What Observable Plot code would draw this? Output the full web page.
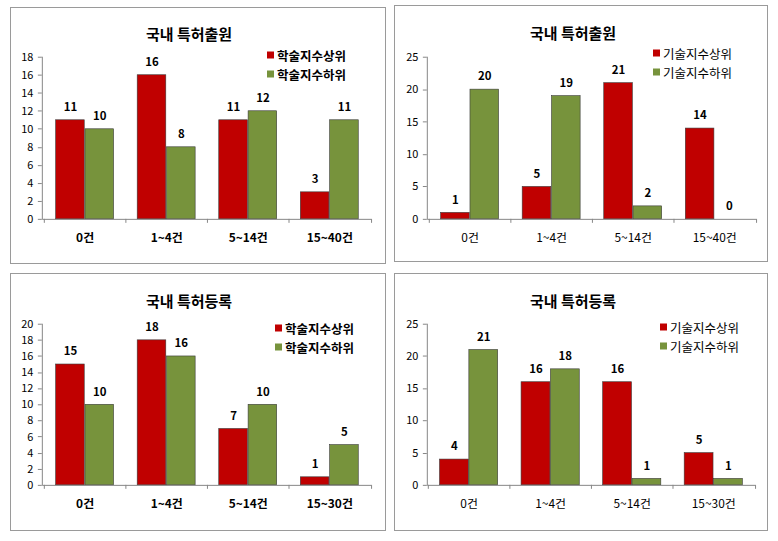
<!DOCTYPE html>
<html><head><meta charset="utf-8">
<script src="https://cdn.jsdelivr.net/npm/d3@7"></script>
<script src="https://cdn.jsdelivr.net/npm/@observablehq/plot@0.6"></script>
<style>
html,body{margin:0;padding:0;background:#fff}
body{width:778px;height:541px;position:relative;overflow:hidden;font-family:"Noto Sans CJK KR","Noto Sans",sans-serif;color:#000}
.box{position:absolute;border:1px solid #9a9a9a;box-sizing:border-box}
.chart{position:absolute}
.title{position:absolute;font-weight:bold;font-size:15px;transform:translate(-50%,-50%);white-space:nowrap}
.leg{position:absolute;font-size:12.5px;white-space:nowrap;transform:translateY(-50%);display:flex;align-items:center}
.sw{display:inline-block;width:7px;height:7px;margin-right:3px}
</style></head>
<body>
<script>
// ---- data ----
const catsA = ["0건", "1~4건", "5~14건", "15~40건"];
const catsB = ["0건", "1~4건", "5~14건", "15~30건"];
const seriesAcad = ["학술지수상위", "학술지수하위"];
const seriesTech = ["기술지수상위", "기술지수하위"];
const titles = ["국내 특허출원", "국내 특허등록"];

const p1High = [11, 16, 11, 3];
const p1Low = [10, 8, 12, 11];
const p2High = [1, 5, 21, 14];
const p2Low = [20, 19, 2, 0];
const p3High = [15, 18, 7, 1];
const p3Low = [10, 16, 10, 5];
const p4High = [4, 16, 16, 5];
const p4Low = [21, 18, 1, 1];

const ticks18 = [0, 2, 4, 6, 8, 10, 12, 14, 16, 18];
const ticks20 = [0, 2, 4, 6, 8, 10, 12, 14, 16, 18, 20];
const ticks25 = [0, 5, 10, 15, 20, 25];

const RED = "#C00000", GREEN = "#77933C";

const panels = [
  {box:[10,7,376,257], m:[50,13,44,32], cats:catsA, series:seriesAcad, hi:p1High, lo:p1Low, ticks:ticks18, title:titles[0], tpos:[189,33], leg:[267,55,74], boldCat:true},
  {box:[394,5,374,257], m:[52,10,42,33], cats:catsA, series:seriesTech, hi:p2High, lo:p2Low, ticks:ticks25, title:titles[0], tpos:[573,32], leg:[653,53,72], boldCat:false},
  {box:[10,273,376,258], m:[51,13,45,32], cats:catsB, series:seriesAcad, hi:p3High, lo:p3Low, ticks:ticks20, title:titles[1], tpos:[189,300], leg:[275,328,347], boldCat:true},
  {box:[394,273,374,258], m:[51,11,45,33], cats:catsB, series:seriesTech, hi:p4High, lo:p4Low, ticks:ticks25, title:titles[1], tpos:[573,300], leg:[660,327,346], boldCat:false}
];

function makePanel(p) {
  const [bx, by, bw, bh] = p.box;
  const [mt, mr, mb, ml] = p.m;
  const box = document.createElement("div");
  box.className = "box";
  Object.assign(box.style, {left: bx+"px", top: by+"px", width: bw+"px", height: bh+"px"});
  document.body.appendChild(box);

  const hiData = p.cats.map((c, i) => ({cat: c, series: p.series[0], value: p.hi[i]}));
  const loData = p.cats.map((c, i) => ({cat: c, series: p.series[1], value: p.lo[i]}));
  const band = (bw - ml - mr) / p.cats.length;
  const barW = 29.5;
  const outer = (band - 2 * barW) / 2;
  const ymax = p.ticks[p.ticks.length - 1];

  const axisLines = (index, scales, values, dims) => {
    const x = scales.x, y = scales.y;
    const x0 = dims.marginLeft, x1 = dims.width - dims.marginRight;
    const y0 = y(0), yt = y(ymax);
    const g = d3.create("svg:g").attr("stroke", "#868686").attr("fill", "none").attr("stroke-width", 1);
    g.append("path").attr("d", `M${x0+0.5},${yt}V${y0+0.5}H${x1}`);
    const edges = p.cats.map(c => x(c)).concat([x1]);
    for (const e of edges) g.append("path").attr("d", `M${Math.round(e)+0.5},${y0}v4`);
    for (const t of p.ticks) g.append("path").attr("d", `M${x0-4},${Math.round(y(t))+0.5}h4`);
    return g.node();
  };

  const chart = Plot.plot({
    width: bw, height: bh,
    marginTop: mt, marginRight: mr, marginBottom: mb, marginLeft: ml,
    style: {fontFamily: '"Noto Sans CJK KR", sans-serif', fontSize: "11px", background: "transparent", color: "#000", overflow: "visible"},
    x: {domain: p.cats, padding: 0, axis: null},
    y: {domain: [0, ymax], axis: null},
    marks: [
      Plot.barY(hiData, {x: "cat", y: "value", fill: RED, stroke: "#3a3a3a", strokeWidth: 0.6, insetLeft: outer, insetRight: band - outer - barW}),
      Plot.barY(loData.filter(d => d.value > 0), {x: "cat", y: "value", fill: GREEN, stroke: "#3a3a3a", strokeWidth: 0.6, insetLeft: outer + barW, insetRight: outer}),
      Plot.text(hiData, {x: "cat", y: "value", text: d => String(d.value), dx: -barW/2, dy: -13, fontWeight: "bold", fontSize: 11.5}),
      Plot.text(loData, {x: "cat", y: "value", text: d => String(d.value), dx: barW/2, dy: -13, fontWeight: "bold", fontSize: 11.5}),
      Plot.axisY({ticks: p.ticks, tickSize: 0, tickPadding: 9, fontSize: 11, label: null}),
      Plot.axisX({tickSize: 0, tickPadding: 14, fontSize: 12, fontWeight: p.boldCat ? "bold" : "normal", label: null}),
      axisLines
    ]
  });
  chart.classList.add("chart");
  chart.style.left = "-1px"; chart.style.top = "-1px";
  box.appendChild(chart);

  const t = document.createElement("div");
  t.className = "title"; t.textContent = p.title;
  t.style.left = p.tpos[0] + "px"; t.style.top = p.tpos[1] + "px";
  document.body.appendChild(t);

  [[p.series[0], RED, p.leg[1]], [p.series[1], GREEN, p.leg[2]]].forEach(([name, col, yy]) => {
    const l = document.createElement("div");
    l.className = "leg";
    l.style.left = p.leg[0] + "px"; l.style.top = yy + "px";
    if (p.boldCat) l.style.fontWeight = "bold";
    l.innerHTML = `<span class="sw" style="background:${col}"></span>${name}`;
    document.body.appendChild(l);
  });
}
panels.forEach(makePanel);
</script>
</body></html>
